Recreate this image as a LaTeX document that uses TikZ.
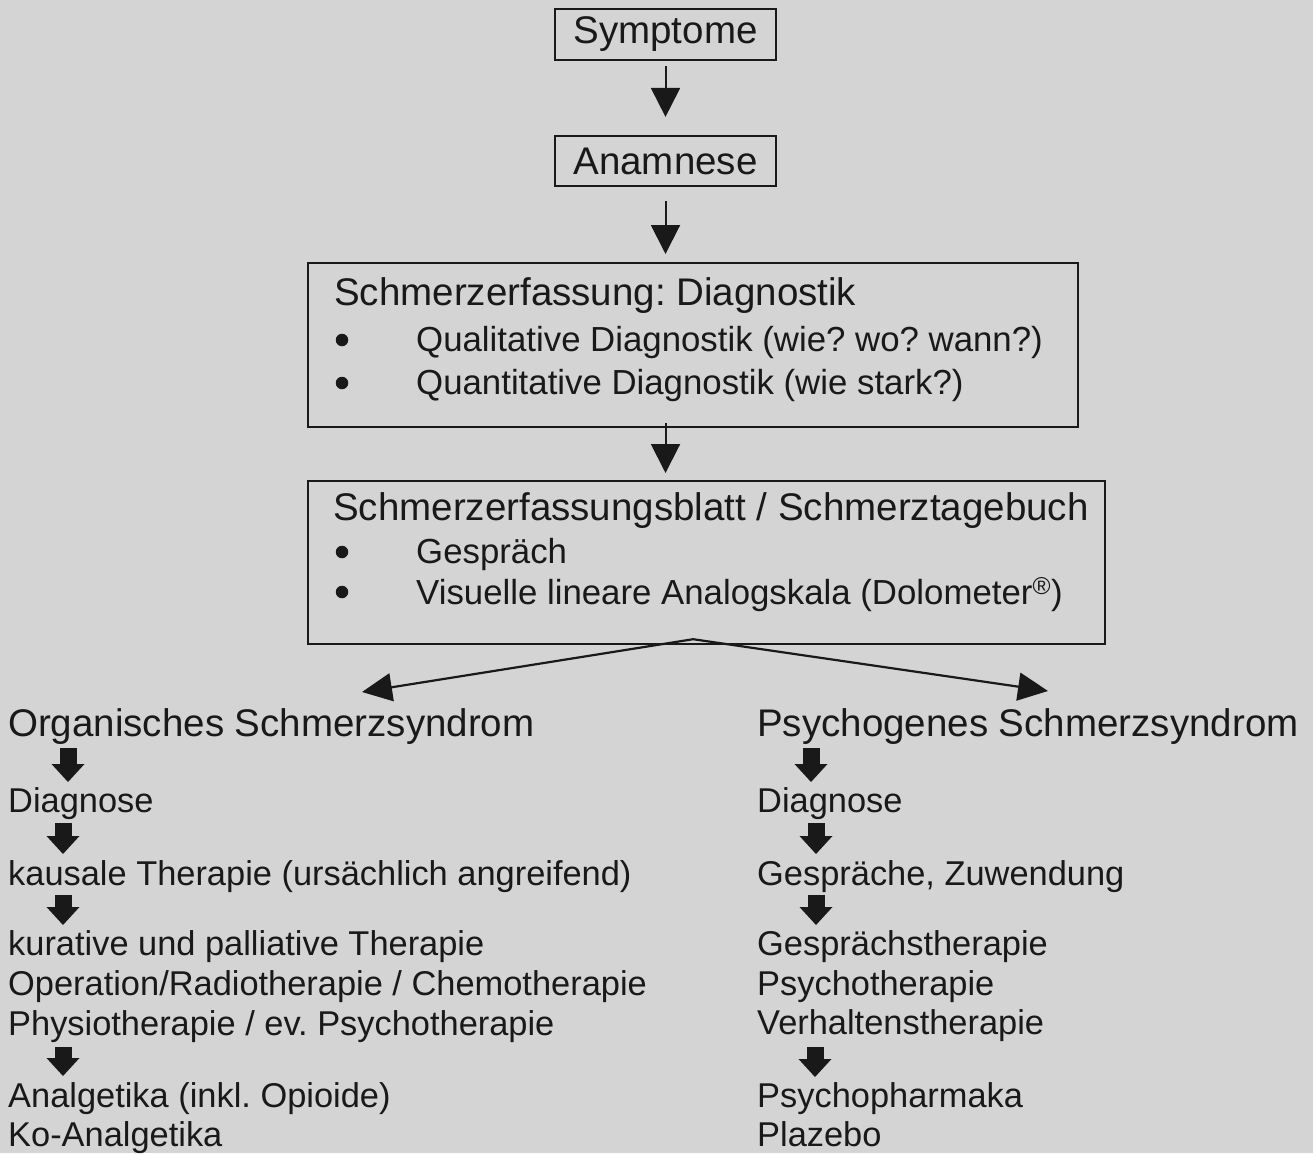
\documentclass[tikz,border=0pt]{standalone}
\usepackage{fontspec}
\setmainfont{Liberation Sans}
\usetikzlibrary{arrows.meta,calc}
\definecolor{bg}{RGB}{212,212,212}
\definecolor{ink}{RGB}{25,25,25}
\frenchspacing
\begin{document}
\frenchspacing
\begin{tikzpicture}[x=1pt,y=-1pt,
  box/.style={draw=ink, line width=2.2pt, inner sep=0pt},
  big/.style={font=\fontsize{38.5}{44}\selectfont\frenchspacing, text=ink, inner sep=0pt},
  mid/.style={font=\fontsize{34.8}{40}\selectfont\frenchspacing, text=ink, inner sep=0pt, anchor=base west},
  txt/.style={font=\fontsize{34.4}{40}\selectfont\frenchspacing, text=ink, inner sep=0pt, anchor=base west},
  dot/.style={circle, fill=ink, draw=none, minimum size=12.5, inner sep=0pt},
  thinarr/.style={draw=ink, line width=2pt, -{Triangle[width=29pt,length=29pt]}},
  forkarr/.style={draw=ink, line width=2.2pt, {Triangle[width=28pt,length=30pt]}-{Triangle[width=28pt,length=30pt]}},
  fat/.style={draw=ink, line width=17pt, -{Triangle[width=33pt,length=18pt,line width=0pt]}}
]
\fill[bg] (0,0) rectangle (1313,1153);
\useasboundingbox (0,0) rectangle (1313,1153);

% top boxes
\node[box, big, minimum width=221, minimum height=51] (sym) at (665.5,34.5) {Symptome};
\node[box, big, minimum width=221, minimum height=50] (ana) at (665.5,161) {Anamnese};

% box 3
\node[box, minimum width=770, minimum height=164, anchor=north west] (b3) at (307,262) {};
\node[big, anchor=base west] (b3t) at (334,305) {Schmerzerfassung: Diagnostik};
\node[dot] (b3d1) at (342,340) {};
\node[dot] (b3d2) at (342,383) {};
\node[mid] (b3l1) at (416,351) {Qualitative Diagnostik (wie? wo? wann?)};
\node[mid] (b3l2) at (416,394) {Quantitative Diagnostik (wie stark?)};

% box 4
\node[box, minimum width=797, minimum height=163, anchor=north west] (b4) at (307,480) {};
\node[big, anchor=base west] (b4t) at (333,520) {Schmerzerfassungsblatt / Schmerztagebuch};
\node[dot] (b4d1) at (342,552) {};
\node[dot] (b4d2) at (342,592) {};
\node[mid] (b4l1) at (416,563) {Gespräch};
\node[mid] (b4l2) at (416,604) {Visuelle lineare Analogskala (Dolometer\textsuperscript{®})};

% arrows between boxes
\draw[thinarr] ([yshift=-5pt]sym.south) -- ([yshift=18pt]ana.north);
\draw[thinarr] ([yshift=-14pt]ana.south) -- ($(ana.south |- b3.north)+(0,-8)$);
\draw[thinarr] ($(ana.south |- b3.south)+(0,-5)$) -- ($(ana.south |- b4.north)+(0,-7)$);

% fork
\coordinate (fork) at ($(b4.south)+(-13.5,-6)$);
\coordinate (tl) at (362,692);
\coordinate (tr) at (1048,691);
\draw[forkarr] (tl) -- (fork) -- (tr);

% left column
\node[big, anchor=base west] (lh) at (8,736) {Organisches Schmerzsyndrom};
\node[txt] (l1) at (8,812) {Diagnose};
\node[txt] (l2) at (8,885) {kausale Therapie (ursächlich angreifend)};
\node[txt] (l3) at (8,955) {kurative und palliative Therapie};
\node[txt] (l4) at (8,995) {Operation/Radiotherapie / Chemotherapie};
\node[txt] (l5) at (8,1035) {Physiotherapie / ev. Psychotherapie};
\node[txt] (l6) at (8,1107) {Analgetika (inkl. Opioide)};
\node[txt] (l7) at (8,1146) {Ko-Analgetika};

% right column
\node[big, anchor=base west] (rh) at (757,736) {Psychogenes Schmerzsyndrom};
\node[txt] (r1) at (757,812) {Diagnose};
\node[txt] (r2) at (757,885) {Gespräche, Zuwendung};
\node[txt] (r3) at (757,955) {Gesprächstherapie};
\node[txt] (r4) at (757,995) {Psychotherapie};
\node[txt] (r5) at (757,1034) {Verhaltenstherapie};
\node[txt] (r6) at (757,1107) {Psychopharmaka};
\node[txt] (r7) at (757,1146) {Plazebo};

% fat arrows left
\draw[fat] ($(lh.base west)+(60,12)$) -- ($(l1.base west)+(60,-30)$);
\draw[fat] ($(l1.base west)+(55,11)$) -- ($(l2.base west)+(55,-31)$);
\draw[fat] ($(l2.base west)+(55,10)$) -- ($(l3.base west)+(55,-30)$);
\draw[fat] ($(l5.base west)+(55,12)$) -- ($(l6.base west)+(55,-31)$);

% fat arrows right
\draw[fat] ($(rh.base west)+(54,12)$) -- ($(r1.base west)+(54,-30)$);
\draw[fat] ($(r1.base west)+(59,11)$) -- ($(r2.base west)+(59,-31)$);
\draw[fat] ($(r2.base west)+(59,10)$) -- ($(r3.base west)+(59,-30)$);
\draw[fat] ($(r5.base west)+(58,13)$) -- ($(r6.base west)+(58,-30)$);
\end{tikzpicture}
\end{document}
